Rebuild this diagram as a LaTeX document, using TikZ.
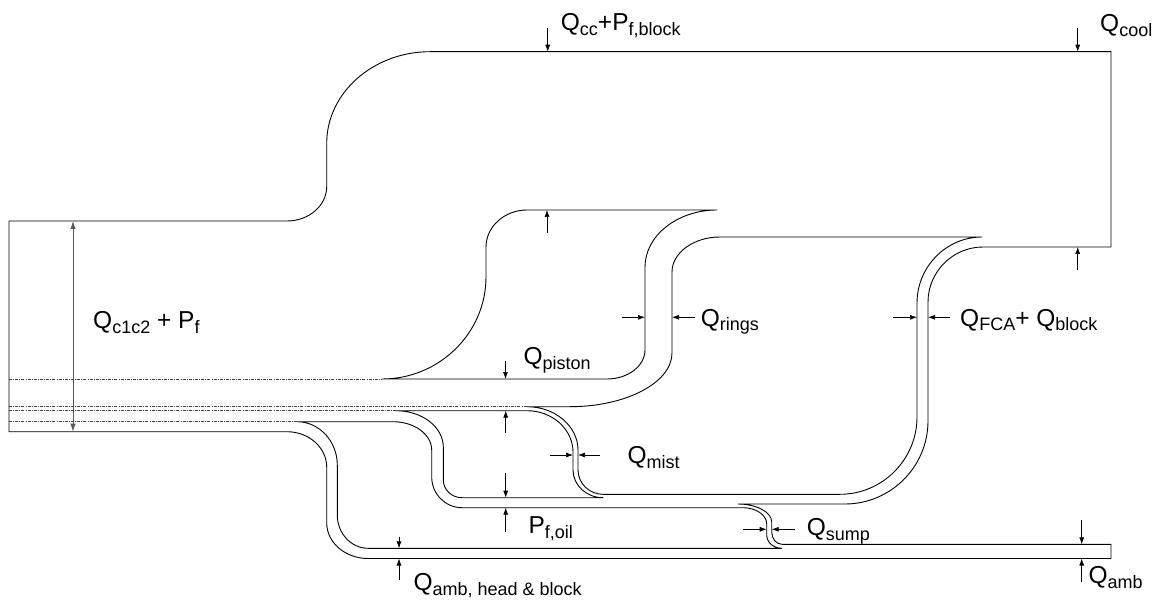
\documentclass[tikz,border=0pt]{standalone}
\usepackage{fontspec}
\setmainfont{Liberation Sans}
\usetikzlibrary{arrows.meta}
\newcommand{\lowsub}[1]{\raisebox{-5pt}{\fontsize{18}{19}\selectfont #1}}
\begin{document}
\begin{tikzpicture}[x=1pt,y=-1pt,
  flow/.style={line width=0.9pt, line join=round},
  sepline/.style={line width=0.6pt, black!75, dash pattern=on 3pt off 1.2pt on 0.8pt off 1.2pt},
  ptr/.style={line width=0.7pt, -{Latex[length=7pt,width=5pt]}},
  lab/.style={anchor=base west, inner sep=0pt, font=\fontsize{24.5}{26}\selectfont}]
\fill[white] (0,0) rectangle (1174,601);
\useasboundingbox (0,0) rectangle (1174,601);

% separators in the inflow
\draw[sepline] (9,379) -- (382,379);
\draw[sepline] (9,406.7) -- (527,406.7);
\draw[sepline] (9,410.7) -- (396,410.7);
\draw[sepline] (9,421.7) -- (297,421.7);

% outer outline
\draw[flow] (9,221) -- (287,221) .. controls (308.8,221) and (326.7,205.6) .. (326.7,186.7)
  -- (326.7,143.3) .. controls (326.7,92.9) and (373.2,51.7) .. (430,51.7)
  -- (1111,51.7) -- (1111,247) -- (983,247) .. controls (952.8,247) and (928,271.8) .. (928,302)
  -- (928,421) .. controls (928,466.7) and (890.7,504) .. (845,504)
  -- (738,504) .. controls (756.5,504) and (771.7,512.1) .. (771.7,522)
  -- (771.7,532) .. controls (771.7,538.8) and (776.3,544.3) .. (782,544.3)
  -- (1111,544.3) -- (1111,558.5) -- (368,558.5) .. controls (345.3,558.5) and (326.7,542.5) .. (326.7,523)
  -- (326.7,467) .. controls (326.7,447.6) and (308.8,431.7) .. (287,431.7)
  -- (9,431.7) -- cycle;

% piston lens
\draw[flow] (382,379) .. controls (439.2,379) and (486,333.1) .. (486,277)
  -- (486,247) .. controls (486,226.6) and (504.5,210) .. (527,210)
  -- (717,210) .. controls (677.4,210) and (645,235.7) .. (645,267)
  -- (645,350) .. controls (645,366) and (627.9,379) .. (607,379) -- (382,379);

% rings outer / FCA outer / mist right
\draw[flow] (527,406.7) -- (570,406.7) .. controls (626.1,406.7) and (672,382.5) .. (672,353)
  -- (672,272) .. controls (672,252.8) and (693.6,237) .. (720,237)
  -- (982,237) .. controls (946.3,237) and (917,266.7) .. (917,303)
  -- (917,417) .. controls (917,459.5) and (882.4,494.3) .. (840,494.3)
  -- (603,494.3) .. controls (589.3,494.3) and (578,483.4) .. (578,470)
  -- (578,450) .. controls (578,426.2) and (555.1,406.7) .. (527,406.7);

% mist left / P_f,oil top
\draw[flow] (396,410.7) -- (527,410.7) .. controls (552.3,410.7) and (573,429.3) .. (573,452)
  -- (573,470) .. controls (573,485.2) and (586.5,497.7) .. (603,497.7)
  -- (462,497.7) .. controls (451.7,497.7) and (443.3,489.7) .. (443.3,480)
  -- (443.3,447) .. controls (443.3,427) and (422,410.7) .. (396,410.7);

% P_f,oil bottom / sump left / amb inner
\draw[flow] (297,421.7) -- (393,421.7) .. controls (414.3,421.7) and (431.7,434.4) .. (431.7,450)
  -- (431.7,477) .. controls (431.7,493.9) and (445.3,507.7) .. (462,507.7)
  -- (743,507.7) .. controls (756,507.7) and (766.7,515) .. (766.7,524)
  -- (766.7,535) .. controls (766.7,542.3) and (773.5,548.3) .. (781.7,548.3)
  -- (368,548.3) .. controls (351.1,548.3) and (337.3,533.3) .. (337.3,515)
  -- (337.3,465) .. controls (337.3,441.2) and (319.2,421.7) .. (297,421.7);

% inflow dimension arrow
\draw[line width=1pt, black!65, {Latex[length=8pt,width=5.5pt]}-{Latex[length=8pt,width=5.5pt]}] (73,221) -- (73,431.7);

% pointer arrows
\draw[ptr] (547.7,28) -- (547.7,51.7);
\draw[ptr] (1077.7,28) -- (1077.7,51.7);
\draw[ptr] (1077.7,270) -- (1077.7,247);
\draw[ptr] (505.5,361) -- (505.5,379);
\draw[ptr] (547,233) -- (547,210);
\draw[ptr] (621.7,317.3) -- (645,317.3);
\draw[ptr] (695,317.3) -- (672,317.3);
\draw[ptr] (893,317.3) -- (917,317.3);
\draw[ptr] (950,317.3) -- (928,317.3);
\draw[ptr] (505.7,433) -- (505.7,410.7);
\draw[ptr] (505.7,473) -- (505.7,497.7);
\draw[ptr] (505.7,532) -- (505.7,507.7);
\draw[ptr] (550,455) -- (573,455);
\draw[ptr] (600,455) -- (578,455);
\draw[ptr] (743,529.3) -- (766.7,529.3);
\draw[ptr] (795,529.3) -- (771.7,529.3);
\draw[ptr] (399,536.7) -- (399,548.3);
\draw[ptr] (399,580) -- (399,558.5);
\draw[ptr] (1081.7,520) -- (1081.7,544.3);
\draw[ptr] (1081.7,582) -- (1081.7,558.5);

% labels
\node[lab] (lqc) at (93,328) {Q\lowsub{c1c2} + P\lowsub{f}};
\node[lab] (lqcc) at (560.7,31) {Q\lowsub{cc}+P\lowsub{f,block}};
\node[lab] (lqcool) at (1100,32) {Q\lowsub{cool}};
\node[lab] (lqpiston) at (523.3,364) {Q\lowsub{piston}};
\node[lab] (lqrings) at (700.7,326) {Q\lowsub{rings}};
\node[lab] (lqfca) at (960,326) {Q\lowsub{FCA}+ Q\lowsub{block}};
\node[lab] (lqmist) at (627.3,463) {Q\lowsub{mist}};
\node[lab] (lpfoil) at (528.3,533) {P\lowsub{f,oil}};
\node[lab] (lqsump) at (806.7,535) {Q\lowsub{sump}};
\node[lab] (lqamb1) at (413.3,590) {Q\lowsub{amb, head \& block}};
\node[lab] (lqamb2) at (1088.3,583) {Q\lowsub{amb}};
\end{tikzpicture}
\end{document}
